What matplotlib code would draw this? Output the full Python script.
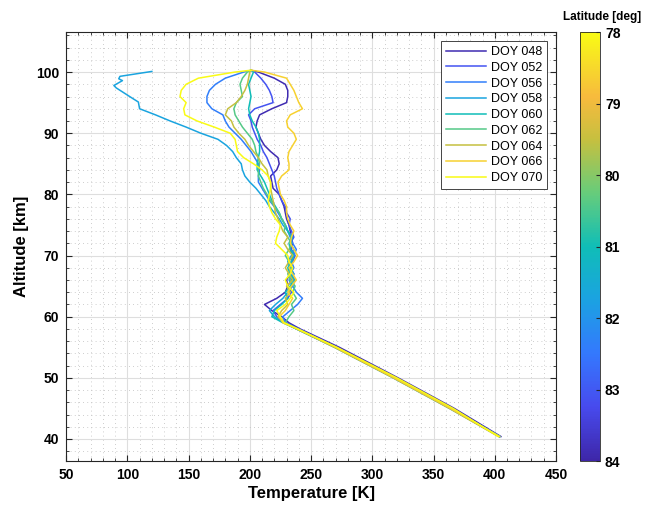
import matplotlib
matplotlib.use("Agg")
import matplotlib.pyplot as plt
from matplotlib.colors import LinearSegmentedColormap, Normalize
from matplotlib.cm import ScalarMappable
from matplotlib.ticker import MultipleLocator

plt.rcParams["font.family"] = ["Liberation Sans", "DejaVu Sans"]

# altitude grid shared by most profiles [km]
ALT = [40.4, 45, 50, 55, 58, 59, 60, 61, 62, 63, 64, 65, 66, 67, 68, 69, 70,
       71, 72, 73, 74, 75, 76, 77, 78, 79, 80, 81, 82, 83, 84, 85, 86, 87, 88,
       89, 90, 91, 92, 93, 94, 95, 96, 97, 98, 99, 100, 100.3]

# DOY 058 has a finer top section
ALT_058 = [40.4, 45, 50, 55, 58, 59, 60, 61, 62, 63, 64, 65, 66, 67, 68, 69,
           70, 71, 72, 73, 74, 75, 76, 77, 78, 79, 80, 81, 82, 83, 84, 85, 86,
           87, 88, 89, 90, 91, 92, 93, 94, 95.1, 95.6, 96.5, 97.4, 97.8, 98.6,
           98.9, 99.3, 100.1]

TEMP_048 = [405, 367, 321, 273, 241,
            232, 226, 218, 212, 222, 229, 231, 230, 233, 232, 234, 235, 233, 235, 234, 233,
            232, 230, 229, 228, 226,
            224, 219, 218, 217, 222, 224, 223, 217, 212, 209,
            207, 205, 206, 208, 218, 230, 231, 231, 229, 220,
            207, 201]
TEMP_052 = [404, 365, 319, 271, 240,
            230, 222, 219, 225, 231, 234, 231, 234, 236, 233, 235, 237, 234, 233, 236, 234,
            232, 233, 230, 229, 226,
            224, 222, 221, 220, 218, 216, 214, 211, 209, 206,
            204, 202, 201, 199, 204, 219, 218, 216, 213, 209,
            204, 201]
TEMP_056 = [404, 364, 318, 270, 239,
            229, 227, 233, 239, 243, 238, 235, 237, 233, 236, 234, 236, 238, 235, 233, 231,
            229, 226, 223, 220, 216,
            213, 210, 207, 207, 208, 207, 204, 201, 197, 193,
            188, 183, 180, 178, 169, 165, 165, 167, 172, 180,
            195, 201]
TEMP_058 = [404, 363, 317, 269, 238,
            228, 220, 216, 221, 227, 231, 235, 232, 236, 233, 231, 234, 236, 233, 235, 231,
            227, 224, 220, 216, 213,
            209, 205, 200, 196, 194, 193, 189, 186, 181, 174,
            160, 148, 135, 123, 110,
            109, 105, 98, 91, 89, 96, 93, 94, 120]
TEMP_060 = [404, 364, 318, 270, 238,
            227, 218, 220, 226, 231, 229, 233, 236, 233, 231, 234, 236, 233, 232, 234, 231,
            229, 226, 224, 221, 218,
            216, 214, 212, 209, 206, 206, 207, 208, 208, 208,
            207, 205, 202, 200, 199, 200, 201, 200, 199, 201,
            203, 201]
TEMP_062 = [404, 364, 318, 270, 239,
            229, 232, 236, 234, 238, 235, 237, 233, 231, 234, 232, 229, 232, 234, 231, 228,
            229, 226, 224, 220, 217,
            214, 211, 209, 207, 207, 208, 207, 205, 204, 202,
            198, 194, 191, 188, 187, 189, 194, 193, 192, 194,
            198, 201]
TEMP_064 = [403, 363, 317, 269, 238,
            228, 223, 226, 231, 229, 233, 230, 235, 232, 229, 232, 235, 231, 228, 231, 227,
            225, 223, 221, 220, 219,
            218, 217, 217, 215, 214, 210, 207, 203, 199, 196,
            191, 187, 185, 180, 182, 189, 193, 196, 198, 199,
            200, 201]
TEMP_066 = [404, 364, 318, 270, 239,
            227, 224, 229, 232, 235, 231, 234, 238, 235, 232, 236, 239, 236, 233, 234, 236,
            233, 231, 230, 230, 228,
            225, 224, 223, 226, 232, 232, 231, 232, 235, 238,
            236, 231, 230, 233, 243, 240, 238, 236, 233, 230,
            212, 201]
TEMP_070 = [403, 366, 320, 271, 239,
            228, 225, 222, 229, 233, 236, 231, 229, 233, 235, 232, 231, 226, 221, 222, 224,
            225, 221, 218, 216, 215,
            216, 217, 217, 215, 210, 203, 195, 190, 189, 188,
            184, 171, 157, 147, 146, 148, 143, 144, 148, 158,
            188, 201]

DOY_LABELS = ["DOY 048", "DOY 052", "DOY 056", "DOY 058", "DOY 060",
              "DOY 062", "DOY 064", "DOY 066", "DOY 070"]
LATITUDES = [83.9, 83.1, 82.4, 81.7, 81.0, 80.4, 79.5, 78.6, 78.0]
LAT_TICKS = [78, 79, 80, 81, 82, 83, 84]

# rough parula look-alike
PARULA = LinearSegmentedColormap.from_list("parula", [
    (0.000, (0.2422, 0.1504, 0.6603)),
    (0.125, (0.2806, 0.2912, 0.9317)),
    (0.250, (0.2039, 0.4717, 0.9945)),
    (0.375, (0.1061, 0.6359, 0.8851)),
    (0.500, (0.0600, 0.7435, 0.7177)),
    (0.625, (0.4019, 0.8006, 0.4833)),
    (0.750, (0.7763, 0.7525, 0.2479)),
    (0.850, (0.9700, 0.7300, 0.2400)),
    (0.920, (0.9700, 0.8500, 0.1700)),
    (1.000, (0.9769, 0.9839, 0.0805)),
])
CMAP = PARULA.reversed()
NORM = Normalize(vmin=78, vmax=84)

profiles = [(ALT, TEMP_048), (ALT, TEMP_052), (ALT, TEMP_056), (ALT_058, TEMP_058),
            (ALT, TEMP_060), (ALT, TEMP_062), (ALT, TEMP_064), (ALT, TEMP_066),
            (ALT, TEMP_070)]

fig = plt.figure(figsize=(6.48, 5.07), dpi=100)
ax = fig.add_axes([0.102, 0.0907, 0.756, 0.8456])

for (alt, temp), label, lat in zip(profiles, DOY_LABELS, LATITUDES):
    ax.plot(temp, alt, color=CMAP(NORM(lat)), linewidth=1.1, label=label)

ax.set_xlim(50, 450)
ax.set_ylim(36.4, 106.5)
ax.xaxis.set_major_locator(MultipleLocator(50))
ax.xaxis.set_minor_locator(MultipleLocator(10))
ax.yaxis.set_major_locator(MultipleLocator(10))
ax.yaxis.set_minor_locator(MultipleLocator(2))
ax.grid(which="major", color="#dedede", linewidth=0.8)
ax.grid(which="minor", color="#bdbdbd", linestyle=(0, (1, 4)), linewidth=0.6)
ax.set_axisbelow(True)
ax.tick_params(which="both", direction="in", top=True, right=True,
               color="#262626", labelsize=10, pad=5)
ax.tick_params(which="major", length=4)
ax.tick_params(which="minor", length=2.5)
for sp in ax.spines.values():
    sp.set_color("#262626")
    sp.set_linewidth(0.8)
for t in ax.get_xticklabels() + ax.get_yticklabels():
    t.set_fontweight("bold")

ax.set_xlabel("Temperature [K]", fontsize=12, fontweight="bold", labelpad=3)
ax.set_ylabel("Altitude [km]", fontsize=12, fontweight="bold", labelpad=5)

leg = ax.legend(loc="upper right", fontsize=9, fancybox=False, framealpha=1,
                edgecolor="#262626", handlelength=3.2, handletextpad=0.4,
                labelspacing=0.3, borderaxespad=0.7, borderpad=0.4)
leg.get_frame().set_linewidth(0.6)

cax = fig.add_axes([0.895, 0.0907, 0.031, 0.8456])
cb = fig.colorbar(ScalarMappable(norm=NORM, cmap=CMAP), cax=cax)
cax.invert_yaxis()
cb.set_ticks(LAT_TICKS)
cb.outline.set_edgecolor("#262626")
cb.outline.set_linewidth(0.6)
cax.tick_params(direction="in", length=3, labelsize=10, color="#262626")
for t in cax.get_yticklabels():
    t.set_fontweight("bold")
cax.set_title("Latitude [deg]", fontsize=8.5, fontweight="bold", pad=9, x=1.1)

fig.savefig("out.png", dpi=100)
